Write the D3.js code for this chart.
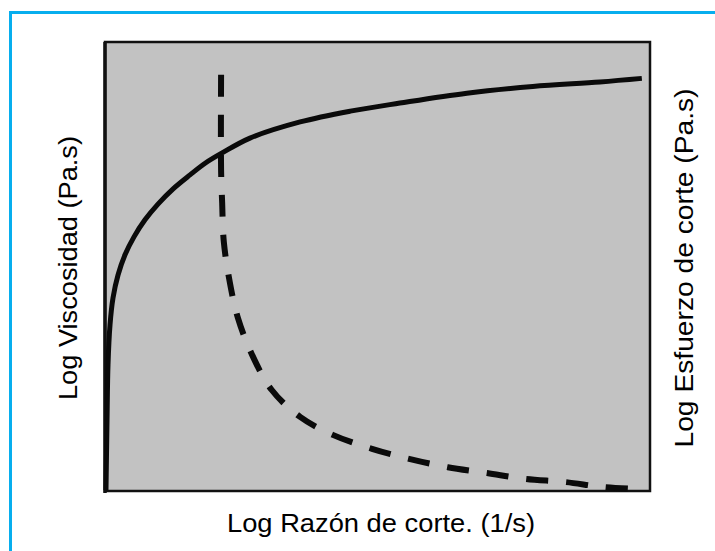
<!DOCTYPE html>
<meta charset="utf-8">
<head>
    <title>Viscosidad y esfuerzo de corte</title>
    <script type="text/javascript" src="https://cdn.jsdelivr.net/npm/d3@7"></script>
    <style>
        body {
            margin: 0;
            padding: 0;
            background: white;
        }
        text {
            font-family: "Liberation Sans", Arial, sans-serif;
            fill: #000;
        }
    </style>
</head>

<body>
    <script>
        // Log shear rate (x) vs log viscosity / log shear stress (0-100 units)
        const viscX = [0.18, 0.37, 0.55, 0.92, 1.47, 2.39, 3.67, 5.32, 7.34, 9.72, 12.5, 15.6, 18.5, 21.5, 26.6, 35.8, 45.0, 54.1, 66.4, 78.5, 90.8, 98.5];
        const viscY = [0.2, 15.8, 28.1, 37.0, 43.0, 48.1, 52.6, 56.6, 60.4, 63.9, 67.3, 70.4, 73.1, 75.3, 78.6, 82.2, 84.6, 86.4, 88.6, 90.1, 91.1, 91.9];

        const stressX = [21.3, 21.3, 21.5, 21.8, 22.9, 24.4, 27.0, 30.6, 35.8, 41.8, 49.0, 56.0, 62.9, 70.1, 77.1, 84.4, 91.4, 98.2];
        const stressY = [92.7, 71.5, 64.1, 55.5, 46.5, 38.5, 30.3, 22.5, 16.5, 12.5, 9.4, 7.1, 5.3, 4.0, 2.7, 2.0, 0.9, 0.4];

        const xLabel = "Log Razón de corte. (1/s)";
        const yLabelLeft = "Log Viscosidad (Pa.s)";
        const yLabelRight = "Log Esfuerzo de corte (Pa.s)";

        const width = 715, height = 551;
        const margin = ({top: 42, right: 65, bottom: 60, left: 105});

        const svg = d3.select("body")
            .append("svg")
            .attr("width", width)
            .attr("height", height);

        // blue frame (only left and top edges show)
        svg.append("path")
            .attr("d", `M10.5,${height} V12.5 H${width}`)
            .attr("fill", "none")
            .attr("stroke", "#07aeee")
            .attr("stroke-width", 3);

        const x = d3.scaleLinear().domain([0, 100]).range([margin.left, width - margin.right]);
        const y = d3.scaleLinear().domain([0, 100]).range([height - margin.bottom, margin.top]);

        // plot box
        svg.append("rect")
            .attr("x", x(0))
            .attr("y", y(100))
            .attr("width", x(100) - x(0))
            .attr("height", y(0) - y(100))
            .attr("fill", "#c2c2c2")
            .attr("stroke", "#111")
            .attr("stroke-width", 2.5);

        // thicker left axis
        svg.append("line")
            .attr("x1", x(0)).attr("x2", x(0))
            .attr("y1", y(0) + 2).attr("y2", y(100))
            .attr("stroke", "#111")
            .attr("stroke-width", 3.5);

        const line = d3.line()
            .x(d => x(d[0]))
            .y(d => y(d[1]))
            .curve(d3.curveCatmullRom.alpha(0.5));

        const viscData = viscX.map((v, i) => [v, viscY[i]]);
        const stressData = stressX.map((v, i) => [v, stressY[i]]);

        svg.append("path")
            .datum(viscData)
            .attr("d", line)
            .attr("fill", "none")
            .attr("stroke", "#0a0a0a")
            .attr("stroke-width", 5)
            .attr("stroke-linecap", "butt");

        svg.append("path")
            .datum(stressData)
            .attr("d", line)
            .attr("fill", "none")
            .attr("stroke", "#0a0a0a")
            .attr("stroke-width", 6)
            .attr("stroke-dasharray", "22,18");

        // axis titles
        svg.append("text")
            .attr("x", 381)
            .attr("y", 532)
            .attr("text-anchor", "middle")
            .attr("font-size", 25)
            .attr("textLength", 308)
            .attr("lengthAdjust", "spacingAndGlyphs")
            .text(xLabel);

        svg.append("text")
            .attr("transform", "translate(77,268) rotate(-90)")
            .attr("text-anchor", "middle")
            .attr("font-size", 25)
            .attr("textLength", 264)
            .attr("lengthAdjust", "spacingAndGlyphs")
            .text(yLabelLeft);

        svg.append("text")
            .attr("transform", "translate(693,268) rotate(-90)")
            .attr("text-anchor", "middle")
            .attr("font-size", 25)
            .attr("textLength", 359)
            .attr("lengthAdjust", "spacingAndGlyphs")
            .text(yLabelRight);
    </script>
</body>
</html>
